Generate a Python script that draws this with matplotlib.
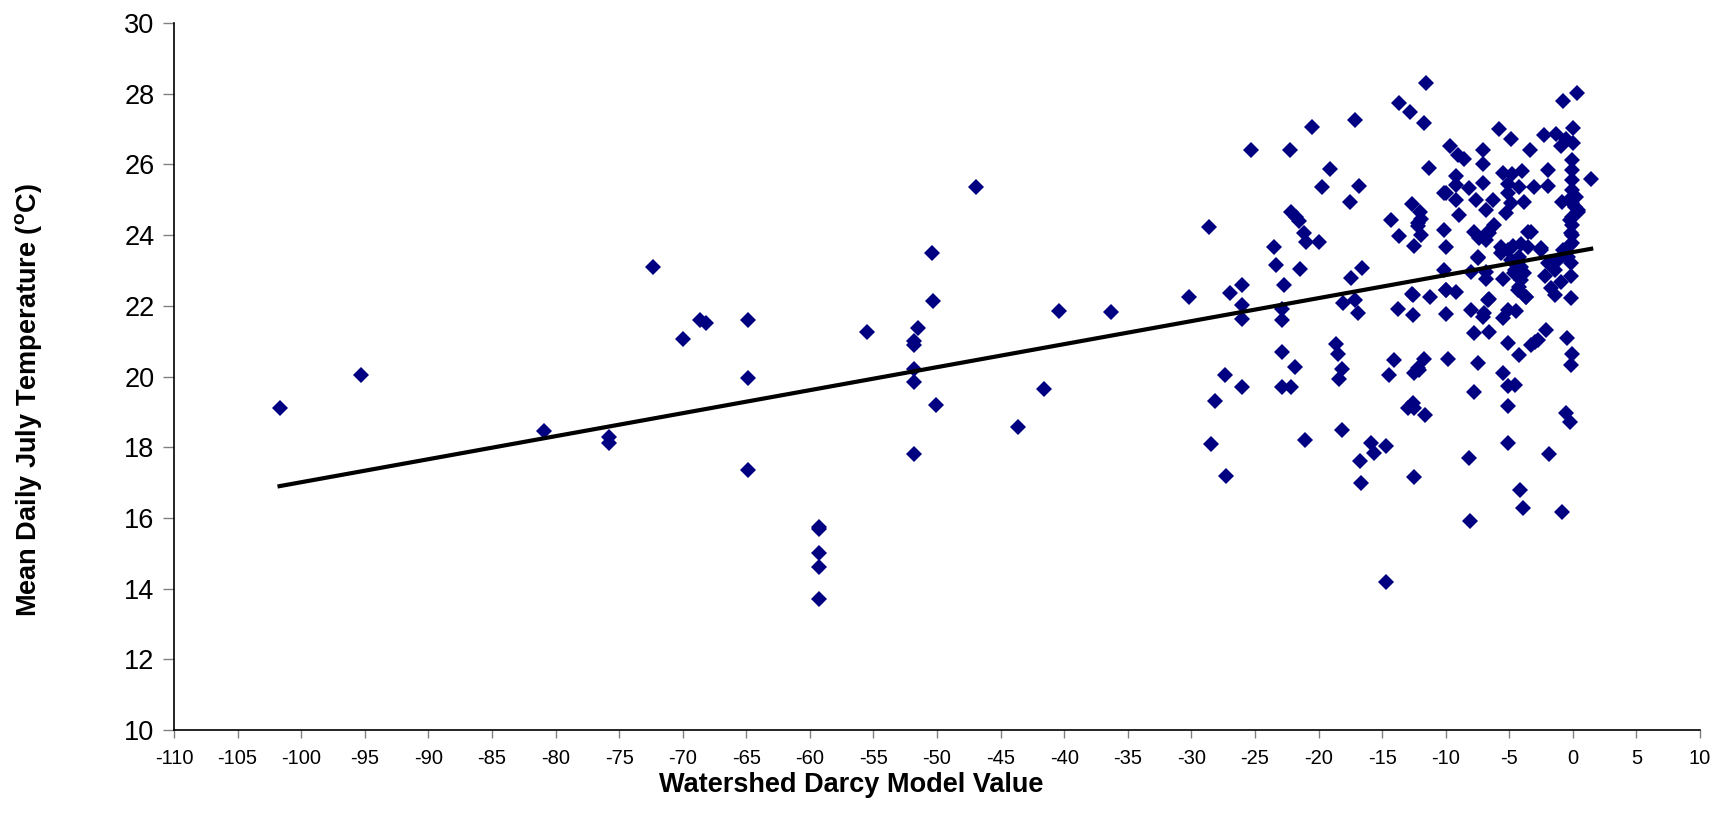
import numpy as np
import matplotlib
matplotlib.use("Agg")
import matplotlib.pyplot as plt

plt.rcParams['font.family'] = ['Liberation Sans', 'DejaVu Sans']
plt.rcParams['mathtext.fontset'] = 'custom'
plt.rcParams['mathtext.rm'] = 'Liberation Sans'
plt.rcParams['mathtext.bf'] = 'Liberation Sans:bold'
plt.rcParams['axes.unicode_minus'] = False

# darcy model value (x) and mean daily july temperature (y)
darcy = [
    -101.7, -95.3, -80.9, -75.8, -75.8, -72.3, -70.0, -68.6, -68.2, -64.9,
    -64.9, -64.9, -59.3, -59.3, -59.3, -59.3, -59.3, -55.5, -51.8, -51.8,
    -51.5, -51.8, -51.8, -51.8, -50.4, -50.3, -50.1, -46.9, -43.6, -41.6,
    -40.4, -36.3, -30.2,
    -28.6, -28.47, -28.13, -27.34, -27.29, -27.0, -26.05, -26.05, -26.05, -26.05,
    -25.32, -23.48, -23.35, -22.88, -22.88, -22.7, -22.9, -22.9, -22.22, -22.17,
    -22.17, -21.78, -21.52, -21.86, -21.44, -21.18, -21.07, -20.99, -20.55, -20.0,
    -19.73, -19.1, -18.63, -18.5, -18.18, -18.37, -18.18, -18.1, -17.5, -17.45,
    -17.14, -17.14, -16.93, -16.85, -16.6, -16.74, -16.66, -15.88, -15.61, -14.7,
    -14.72, -14.3, -14.09, -14.49, -13.78, -13.7, -13.65,
    -12.78, -11.73, -11.55, -11.34, -10.16, -9.7, -12.65, -12.47, -12.0, -11.94,
    -12.2, -11.94, -10.1, -9.97, -10.1, -9.97, -12.6, -11.2, -12.65, -9.97,
    -11.68, -12.47, -12.07, -9.84, -12.6, -13.0, -12.47, -11.6, -12.47,
    -9.05, -8.6, -7.05, -7.05, -9.18, -9.18, -9.97, -9.18, -8.14, -7.09,
    -7.61, -6.3, -6.82, -8.92, -5.5, -4.8, -4.0, -5.1, -4.2, -5.12,
    -4.86, -3.81, -5.25, -7.74, -6.69, -6.17, -7.35, -5.51, -4.73, -4.2,
    -3.55, -7.48, -6.82, -1.97, -1.97, -3.07, -5.77, -4.85, -3.41,
    -0.79, 0.34, -2.28, -1.31, 0.0, -0.92, -0.52, 0.0,
    -0.1, -0.1, -0.05, -0.1, -0.05, -0.1, -0.1, -0.1, -0.05, -0.1,
    0.26, 0.39, 0.13, 0.39, -0.85, 1.44,
    -6.56, -6.82, -0.26, -0.13, -0.26,
    -5.64, -5.12, -4.07, -3.54, -4.33, -2.49, -7.48, -7.99, -6.82, -5.51,
    -4.59, -4.07, -4.33, -3.67, -6.56,
    -2.49, -3.28, -0.79, -0.39, -1.71, -0.13, -1.97, -1.18, -1.44, -2.23,
    -0.13, -0.92, -1.71, -1.44, -0.13, -2.1, -2.97, -0.45, -0.08, -0.13,
    -5.64, -4.86, -4.07, -4.6, -3.81, -4.2, -3.68, -9.97, -9.18, -8.01,
    -7.09, -6.69, -5.51, -5.12, -4.46, -7.74, -6.56, -5.12, -3.28, -4.2,
    -7.48, -5.51, -6.95, -2.75, -12.2, -5.12, -4.59, -7.79, -5.12, -0.52,
    -0.26, -5.12, -1.89, -8.18, -4.14, -3.93, -0.84, -8.08, -12.2, -12.59,
]
temp = [
    19.1, 20.05, 18.45, 18.3, 18.12, 23.1, 21.05, 21.6, 21.5, 21.6,
    19.97, 17.35, 15.75, 15.68, 15.0, 14.6, 13.7, 21.27, 21.0, 20.9,
    21.36, 20.2, 19.85, 17.8, 23.5, 22.15, 19.2, 25.35, 18.58, 19.66,
    21.85, 21.83, 22.25,
    24.24, 18.09, 19.31, 20.04, 17.19, 22.35, 22.6, 22.02, 21.62, 19.71,
    26.4, 23.67, 23.15, 21.92, 21.6, 22.6, 20.7, 19.69, 26.4, 24.66,
    19.71, 24.52, 24.41, 20.26, 23.03, 24.07, 18.2, 23.81, 27.05, 23.81,
    25.35, 25.87, 20.91, 20.64, 20.2, 19.92, 18.5, 22.07, 24.93, 22.8,
    27.25, 22.16, 21.79, 25.39, 23.08, 17.61, 17.0, 18.11, 17.85, 18.03,
    14.2, 24.44, 20.47, 20.04, 21.92, 23.97, 27.74,
    27.47, 27.16, 28.29, 25.89, 25.18, 26.52, 24.87, 23.69, 24.66, 24.47,
    24.25, 24.0, 24.14, 23.67, 23.0, 22.44, 22.3, 22.24, 22.33, 21.77,
    20.5, 20.09, 20.18, 20.49, 19.26, 19.12, 19.1, 18.91, 17.17,
    26.28, 26.15, 26.4, 26.0, 25.66, 25.42, 25.18, 24.99, 25.33, 25.47,
    24.99, 24.99, 24.71, 24.57, 25.76, 25.72, 25.82, 25.45, 25.37, 25.18,
    24.9, 24.95, 24.62, 24.1, 24.1, 24.29, 23.91, 23.58, 23.68, 23.39,
    24.1, 23.39, 22.97, 25.84, 25.39, 25.37, 26.99, 26.71, 26.4,
    27.79, 28.03, 26.83, 26.86, 27.02, 26.52, 26.73, 26.6,
    26.13, 25.84, 25.56, 25.28, 25.09, 24.9, 24.52, 24.29, 24.0, 23.77,
    25.08, 24.71, 24.8, 24.66, 24.93, 25.58,
    24.05, 23.86, 24.42, 24.05, 23.72,
    23.67, 23.57, 23.76, 23.67, 23.29, 23.57, 23.34, 22.96, 22.77, 22.77,
    23.01, 22.73, 22.44, 22.25, 22.18,
    23.63, 24.1, 23.58, 23.39, 23.25, 23.2, 23.2, 23.3, 23.01, 22.83,
    22.83, 22.68, 22.5, 22.31, 22.21, 21.32, 20.99, 21.1, 20.64, 20.33,
    23.49, 23.3, 23.11, 22.92, 22.92, 22.54, 22.26, 22.45, 22.4, 21.88,
    21.69, 22.16, 21.65, 21.88, 21.84, 21.22, 21.27, 20.94, 20.89, 20.61,
    20.37, 20.09, 21.79, 21.03, 20.23, 19.73, 19.76, 19.57, 19.17, 18.96,
    18.7, 18.13, 17.81, 17.7, 16.79, 16.29, 16.18, 15.91, 24.33, 21.74,
]

# linear trend line as drawn in the chart
slope = 0.0651
intercept = 23.52

x_ticks = list(range(-110, 11, 5))
y_ticks = list(range(10, 31, 2))

fig = plt.figure(figsize=(17.16, 8.31), dpi=100)
ax = fig.add_axes([0.1014, 0.1215, 0.8893, 0.8508])

ax.plot(darcy, temp, linestyle='none', marker='D', markersize=8.4,
        color='#000080', markeredgewidth=0, zorder=3)

xs = np.array([min(darcy), max(darcy)])
ax.plot(xs, slope * xs + intercept, color='black', linewidth=3.0, zorder=4)

ax.set_xlim(-110, 10)
ax.set_ylim(10, 30)
ax.set_xticks(x_ticks)
ax.set_yticks(y_ticks)
ax.tick_params(axis='x', labelsize=14.5, length=6, width=1, color='#808080', pad=8)
ax.tick_params(axis='y', labelsize=19.5, length=8, width=1, color='#808080', pad=6)
for s in ['top', 'right']:
    ax.spines[s].set_visible(False)
for s in ['left', 'bottom']:
    ax.spines[s].set_color('black')
    ax.spines[s].set_linewidth(1.2)

fig.text(0.496, 0.0554, 'Watershed Darcy Model Value', ha='center', va='center',
         fontsize=19.5, fontweight='bold')
fig.text(0.0166, 0.519, r'Mean Daily July Temperature (${}^{\mathbf{o}}$C)',
         ha='center', va='center', rotation=90, fontsize=19.5, fontweight='bold')

fig.savefig('out.png', dpi=100)
